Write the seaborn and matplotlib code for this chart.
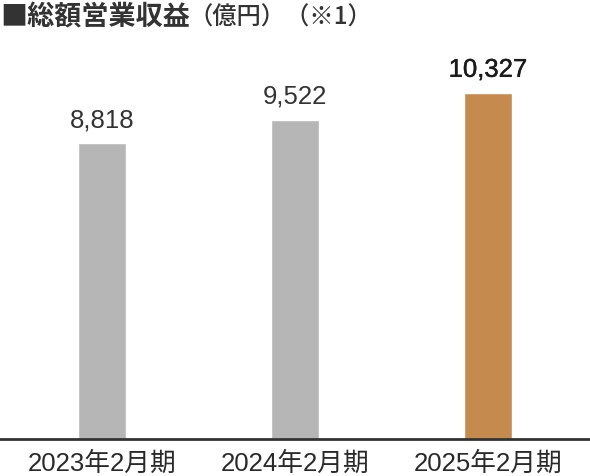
import matplotlib
matplotlib.use("Agg")
import matplotlib.pyplot as plt
import matplotlib.patheffects as pe
import seaborn as sns

periods = ["2023年2月期", "2024年2月期", "2025年2月期"]
revenue = [8818, 9522, 10327]
bar_colors = ["#b5b6b5", "#b5b6b5", "#c48a4e"]

sns.set_theme(style="white")
plt.rcParams['font.family'] = ['Liberation Sans', 'Noto Sans CJK JP', 'DejaVu Sans']

fig = plt.figure(figsize=(5.9, 4.76), dpi=100)
ax = fig.add_axes([0, 37 / 476, 1, 439 / 476])

sns.barplot(x=periods, y=revenue, hue=periods, palette=bar_colors,
            width=0.25, legend=False, saturation=1, ax=ax)

ax.set_xlim(-0.528, 2.528)
ax.set_ylim(0, 13100)
ax.set_yticks([])
ax.set_xlabel("")
ax.set_ylabel("")
for side in ["top", "left", "right"]:
    ax.spines[side].set_visible(False)
ax.spines["bottom"].set_color("#333333")
ax.spines["bottom"].set_linewidth(2)
ax.tick_params(axis="x", length=0, pad=9, labelsize=18.5, labelcolor="#2a2a2a")

for i, v in enumerate(revenue):
    last = i == len(revenue) - 1
    t = ax.annotate(f"{v:,}", (i, v), xytext=(0, 8), textcoords="offset points",
                    ha="center", va="bottom", fontsize=18.5,
                    color="#1a1a1a" if last else "#333333")
    if last:
        # latest year is drawn a little heavier
        t.set_path_effects([pe.withStroke(linewidth=0.3, foreground="#1a1a1a")])

cjk = ['Noto Sans CJK JP', 'DejaVu Sans']
fig.text(0.0, 1 - 17.5 / 476, "■総額営業収益", ha="left", va="center",
         fontsize=19.5, fontweight="bold", color="#333333", family=cjk)
fig.text(188 / 590, 1 - 17.5 / 476, "（億円）（※1）", ha="left", va="center",
         fontsize=17.5, fontweight="medium", color="#333333", family=cjk)

fig.savefig("out.png", dpi=100)
